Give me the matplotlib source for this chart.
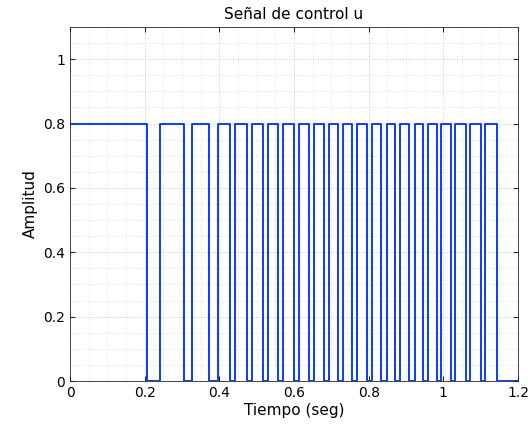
import numpy as np
import matplotlib
matplotlib.use("Agg")
import matplotlib.pyplot as plt
from matplotlib.ticker import MultipleLocator, FuncFormatter

# switching instants (s) and level held from each instant
t_switch = [0.0, 0.205, 0.240, 0.305, 0.327, 0.372, 0.396, 0.429, 0.442,
            0.474, 0.488, 0.517, 0.530, 0.557, 0.571, 0.600, 0.613,
            0.640, 0.654, 0.680, 0.694, 0.718, 0.731, 0.755, 0.769,
            0.796, 0.809, 0.833, 0.849, 0.871, 0.884, 0.908, 0.924,
            0.946, 0.959, 0.983, 0.994, 1.021, 1.031, 1.061, 1.072,
            1.101, 1.112, 1.144, 1.2]
u_level = [0.8, 0.0] * 22 + [0.0]

fig = plt.figure(figsize=(5.28, 4.25), dpi=100)
ax = fig.add_axes([0.1326, 0.1035, 0.8485, 0.833])

ax.plot(t_switch, u_level, drawstyle="steps-post", color="#0a3cff", lw=1.4)

ax.set_xlim(0, 1.2)
ax.set_ylim(0, 1.1)
ax.xaxis.set_major_locator(MultipleLocator(0.2))
ax.yaxis.set_major_locator(MultipleLocator(0.2))
ax.xaxis.set_minor_locator(MultipleLocator(0.05))
ax.yaxis.set_minor_locator(MultipleLocator(0.05))
fmt = FuncFormatter(lambda v, p: "%g" % round(v, 3))
ax.xaxis.set_major_formatter(fmt)
ax.yaxis.set_major_formatter(fmt)

ax.grid(which="major", ls=":", color="#c8c8c8", lw=0.7)
ax.grid(which="minor", ls=":", color="#dcdcdc", lw=0.6)
ax.tick_params(which="both", direction="in", top=True, right=True,
               labelsize=10, color="#262626")
ax.tick_params(which="minor", length=0)
for s in ax.spines.values():
    s.set_color("#262626")
    s.set_linewidth(0.6)

ax.set_title("Señal de control u", fontsize=11)
ax.set_xlabel("Tiempo (seg)", fontsize=11, labelpad=2)
ax.set_ylabel("Amplitud", fontsize=11)

fig.savefig("out.png", dpi=100)
